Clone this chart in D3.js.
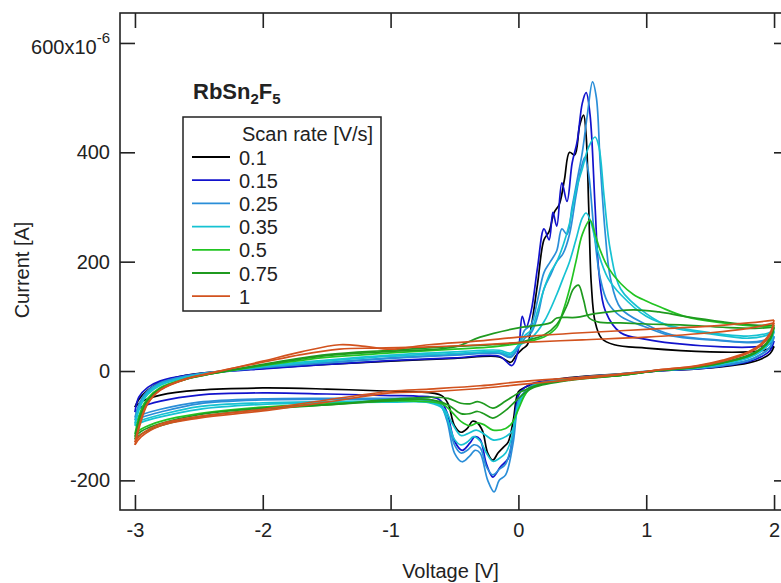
<!DOCTYPE html>
<html>
<head>
<meta charset="utf-8">
<script src="https://cdn.jsdelivr.net/npm/d3@7"></script>
<style>
  body { margin: 0; background: #fff; }
  text { font-family: "Liberation Sans", Arial, sans-serif; fill: #222; }
</style>
</head>
<body>
<script>
// Scan rates (legend labels) and colours
const rates = ["0.1", "0.15", "0.25", "0.35", "0.5", "0.75", "1"];
const colors = ["#000000", "#1212cc", "#2a8ed8", "#16c2d2", "#22c422", "#1f9a1f", "#d2521e"];

// Current in uA, [voltage, current]; forward scan -3 -> 2, reverse 2 -> -3
const fwd01 = [[-3,-66],[-2.97,-52],[-2.9,-35],[-2.8,-20],[-2.6,-8],[-2.4,-2],[-2,5],[-1.5,12],[-1,18],[-0.5,23],[-0.15,26],[-0.06,16],[-0.02,28],[0.03,40],[0.07,48],[0.1,80],[0.15,160],[0.2,240],[0.24,255],[0.28,290],[0.32,305],[0.36,350],[0.4,400],[0.44,395],[0.48,450],[0.51,468],[0.53,430],[0.55,300],[0.57,160],[0.6,90],[0.65,60],[0.75,48],[1.0,42],[1.5,35],[1.8,35],[1.92,38],[2,45]];
const rev01 = [[2,45],[1.97,32],[1.9,22],[1.8,15],[1.6,8],[1.4,4],[1.1,0],[0.8,-5],[0.4,-12],[0.15,-22],[0.05,-30],[0.0,-38],[-0.04,-90],[-0.08,-130],[-0.12,-140],[-0.16,-150],[-0.2,-163],[-0.24,-150],[-0.28,-110],[-0.32,-95],[-0.36,-92],[-0.4,-105],[-0.45,-112],[-0.5,-100],[-0.55,-60],[-0.6,-45],[-0.8,-38],[-1,-37],[-1.5,-33],[-2,-31],[-2.5,-35],[-2.8,-44],[-2.95,-56],[-3,-66]];

const fwd015 = [[-3,-75],[-2.97,-48],[-2.9,-30],[-2.8,-18],[-2.6,-8],[-2.4,-3],[-2,4],[-1.5,12],[-1,19],[-0.5,24],[-0.15,27],[-0.05,10],[0,40],[0.03,100],[0.06,80],[0.1,110],[0.15,190],[0.2,260],[0.24,240],[0.27,290],[0.3,265],[0.34,344],[0.38,310],[0.42,380],[0.46,420],[0.5,490],[0.53,509],[0.56,470],[0.6,300],[0.63,180],[0.68,110],[0.8,70],[1.0,58],[1.2,51],[1.6,44],[1.85,44],[1.95,48],[2,55]];
const rev015 = [[2,55],[1.97,38],[1.9,26],[1.8,17],[1.6,9],[1.4,4],[1.1,0],[0.8,-6],[0.4,-13],[0.12,-22],[0.05,-30],[0,-45],[-0.04,-110],[-0.08,-160],[-0.14,-175],[-0.2,-194],[-0.25,-170],[-0.3,-125],[-0.34,-120],[-0.38,-132],[-0.44,-145],[-0.5,-128],[-0.56,-75],[-0.62,-52],[-0.8,-46],[-1,-45],[-1.5,-42],[-2,-40],[-2.5,-44],[-2.8,-55],[-2.95,-66],[-3,-75]];

const fwd025 = [[-3,-90],[-2.96,-60],[-2.9,-38],[-2.8,-22],[-2.6,-10],[-2.4,-3],[-2,6],[-1.5,15],[-1,23],[-0.5,29],[-0.15,32],[-0.06,25],[0.0,45],[0.05,75],[0.1,85],[0.15,130],[0.2,180],[0.25,200],[0.3,220],[0.34,260],[0.38,250],[0.42,300],[0.46,350],[0.5,400],[0.54,470],[0.58,529],[0.61,500],[0.64,380],[0.68,250],[0.72,170],[0.8,115],[1.0,85],[1.2,66],[1.5,58],[1.8,53],[1.95,58],[2,64]];
const rev025 = [[2,64],[1.97,45],[1.9,31],[1.8,20],[1.6,11],[1.4,5],[1.1,1],[0.8,-6],[0.4,-14],[0.12,-25],[0.06,-35],[0.0,-60],[-0.04,-130],[-0.1,-190],[-0.15,-200],[-0.19,-221],[-0.24,-200],[-0.3,-150],[-0.34,-145],[-0.38,-155],[-0.44,-166],[-0.5,-150],[-0.56,-90],[-0.62,-60],[-0.8,-52],[-1,-52],[-1.5,-52],[-2,-53],[-2.5,-60],[-2.8,-75],[-2.95,-85],[-3,-90]];
const fwd025b = [[-3,-85],[-2.96,-56],[-2.9,-36],[-2.8,-21],[-2.6,-9],[-2.4,-2],[-2,7],[-1.5,16],[-1,24],[-0.5,30],[-0.15,33],[-0.06,27],[0,42],[0.05,60],[0.1,70],[0.15,100],[0.2,150],[0.25,175],[0.3,200],[0.35,215],[0.4,250],[0.45,320],[0.49,370],[0.52,391],[0.55,360],[0.59,260],[0.64,170],[0.7,125],[0.8,100],[1.0,80],[1.2,64],[1.5,57],[1.8,52],[1.95,56],[2,62]];
const rev025b = [[2,62],[1.97,44],[1.9,30],[1.8,19],[1.6,10],[1.4,5],[1.1,1],[0.8,-5],[0.4,-14],[0.12,-25],[0.06,-35],[0,-55],[-0.05,-130],[-0.1,-170],[-0.15,-180],[-0.2,-190],[-0.25,-175],[-0.3,-140],[-0.35,-135],[-0.4,-145],[-0.45,-150],[-0.5,-135],[-0.56,-85],[-0.62,-58],[-0.8,-50],[-1,-50],[-1.5,-50],[-2,-51],[-2.5,-57],[-2.8,-70],[-2.95,-80],[-3,-85]];

const fwd035 = [[-3,-96],[-2.96,-62],[-2.9,-40],[-2.8,-24],[-2.6,-11],[-2.4,-3],[-2,8],[-1.5,18],[-1,27],[-0.5,32],[-0.15,35],[-0.06,30],[0,48],[0.05,65],[0.1,75],[0.15,110],[0.2,150],[0.25,180],[0.3,200],[0.35,230],[0.4,270],[0.45,330],[0.5,370],[0.55,410],[0.6,428],[0.63,410],[0.67,320],[0.72,220],[0.8,150],[1.0,105],[1.2,80],[1.5,68],[1.8,60],[1.95,66],[2,72]];
const rev035 = [[2,72],[1.97,52],[1.9,36],[1.8,24],[1.6,13],[1.4,6],[1.1,1],[0.8,-7],[0.4,-15],[0.12,-27],[0.06,-38],[0.0,-60],[-0.05,-120],[-0.1,-150],[-0.15,-160],[-0.2,-165],[-0.25,-150],[-0.3,-128],[-0.35,-120],[-0.4,-130],[-0.45,-135],[-0.5,-125],[-0.56,-85],[-0.62,-62],[-0.8,-55],[-1,-55],[-1.5,-56],[-2,-58],[-2.5,-65],[-2.8,-80],[-2.95,-90],[-3,-96]];
const fwd035b = [[-3,-100],[-2.96,-66],[-2.9,-43],[-2.8,-26],[-2.6,-12],[-2.4,-4],[-2,9],[-1.5,20],[-1,29],[-0.5,35],[-0.15,38],[-0.06,33],[0,46],[0.1,60],[0.2,90],[0.3,140],[0.35,170],[0.4,200],[0.45,240],[0.5,280],[0.53,289],[0.57,270],[0.62,220],[0.7,170],[0.8,140],[1.0,100],[1.2,82],[1.5,70],[1.8,64],[1.95,69],[2,74]];
const rev035b = [[2,74],[1.97,53],[1.9,37],[1.8,25],[1.6,13],[1.4,6],[1.1,1],[0.8,-6],[0.4,-15],[0.12,-27],[0.06,-40],[0,-65],[-0.05,-110],[-0.1,-120],[-0.15,-125],[-0.2,-126],[-0.27,-115],[-0.33,-108],[-0.4,-115],[-0.45,-118],[-0.52,-95],[-0.58,-70],[-0.7,-58],[-1,-57],[-1.5,-58],[-2,-61],[-2.5,-70],[-2.8,-84],[-2.95,-94],[-3,-100]];

const fwd05 = [[-3,-115],[-2.95,-70],[-2.9,-50],[-2.8,-30],[-2.6,-14],[-2.4,-5],[-2,10],[-1.5,25],[-1,33],[-0.5,40],[-0.2,44],[0,50],[0.1,55],[0.2,62],[0.3,80],[0.35,110],[0.4,150],[0.45,200],[0.5,250],[0.56,276],[0.6,250],[0.64,221],[0.7,190],[0.8,160],[0.9,140],[1.0,128],[1.11,117],[1.3,100],[1.6,88],[1.85,82],[2,80]];
const rev05 = [[2,80],[1.97,58],[1.9,40],[1.8,27],[1.6,15],[1.4,7],[1.1,1],[0.8,-8],[0.4,-16],[0.12,-28],[0.06,-40],[0.0,-70],[-0.05,-95],[-0.1,-105],[-0.2,-108],[-0.27,-98],[-0.32,-95],[-0.38,-100],[-0.45,-92],[-0.52,-75],[-0.6,-60],[-0.8,-55],[-1,-55],[-1.5,-60],[-2,-66],[-2.5,-78],[-2.8,-92],[-2.95,-106],[-3,-115]];

const fwd075 = [[-3,-125],[-2.95,-80],[-2.9,-55],[-2.8,-33],[-2.6,-15],[-2.4,-5],[-2,12],[-1.5,30],[-1,38],[-0.5,45],[-0.2,48],[0,52],[0.1,58],[0.2,66],[0.3,85],[0.38,120],[0.43,150],[0.47,157],[0.51,130],[0.55,98],[0.62,90],[0.8,88],[1.0,86],[1.3,84],[1.6,80],[1.85,78],[2,80]];
const rev075 = [[2,80],[1.97,58],[1.9,40],[1.8,27],[1.6,15],[1.4,7],[1.1,1],[0.8,-8],[0.4,-16],[0.12,-28],[0.05,-35],[0.0,-40],[-0.1,-55],[-0.2,-68],[-0.27,-60],[-0.32,-56],[-0.38,-60],[-0.45,-59],[-0.55,-50],[-0.7,-48],[-1,-52],[-1.5,-62],[-2,-70],[-2.5,-84],[-2.8,-100],[-2.95,-115],[-3,-125]];
const fwd075b = [[-3,-120],[-2.95,-76],[-2.9,-53],[-2.8,-32],[-2.6,-15],[-2.4,-5],[-2,11],[-1.5,28],[-1,36],[-0.5,44],[-0.3,62],[0,79],[0.25,88],[0.3,97],[0.45,98],[0.6,105],[0.9,112],[1.1,108],[1.3,100],[1.6,90],[1.85,84],[2,84]];
const rev075b = [[2,84],[1.97,61],[1.9,42],[1.8,29],[1.6,16],[1.4,7],[1.1,1],[0.8,-8],[0.4,-17],[0.12,-30],[0.05,-40],[0.0,-50],[-0.1,-72],[-0.2,-86],[-0.27,-78],[-0.32,-74],[-0.38,-78],[-0.45,-78],[-0.55,-62],[-0.7,-52],[-1,-54],[-1.5,-62],[-2,-68],[-2.5,-80],[-2.8,-96],[-2.95,-110],[-3,-120]];

const fwd1 = [[-3,-135],[-2.95,-90],[-2.9,-60],[-2.8,-35],[-2.6,-15],[-2.4,-4],[-2,18],[-1.7,35],[-1.4,48],[-1.2,45],[-1,40],[-0.7,48],[-0.3,55],[0,62],[0.5,70],[1.0,76],[1.5,82],[1.8,88],[2,93]];
const rev1 = [[2,93],[1.97,70],[1.9,50],[1.8,35],[1.6,20],[1.4,10],[1.1,2],[1.0,-1],[0.5,-14],[0,-25],[-0.3,-32],[-0.7,-38],[-1,-40],[-1.5,-57],[-2,-73],[-2.5,-86],[-2.8,-100],[-2.95,-120],[-3,-135]];
const fwd1b = [[-3,-130],[-2.95,-86],[-2.9,-58],[-2.8,-34],[-2.6,-14],[-2.4,-3],[-2,16],[-1.7,30],[-1.4,40],[-1.1,42],[-0.7,44],[-0.3,48],[0,52],[0.5,57],[1.0,62],[1.5,70],[1.8,78],[2,88]];
const rev1b = [[2,88],[1.97,66],[1.9,47],[1.8,33],[1.6,18],[1.4,9],[1.1,2],[1.0,-1],[0.5,-11],[0,-20],[-0.3,-27],[-0.7,-33],[-1,-37],[-1.5,-53],[-2,-70],[-2.5,-83],[-2.8,-97],[-2.95,-116],[-3,-130]];

// each scan rate: list of [forward, reverse] cycles
const cycles = [
  [[fwd01, rev01]],
  [[fwd015, rev015]],
  [[fwd025, rev025], [fwd025b, rev025b]],
  [[fwd035, rev035], [fwd035b, rev035b]],
  [[fwd05, rev05]],
  [[fwd075, rev075], [fwd075b, rev075b]],
  [[fwd1, rev1], [fwd1b, rev1b]]
];

const xTicks = [-3, -2, -1, 0, 1, 2];
const yTicks = [-200, 0, 200, 400, 600];

const width = 781, height = 583;
const mLeft = 120, mRight = 789, mTop = 13, mBottom = 510;

const svg = d3.select("body").append("svg")
    .attr("width", width)
    .attr("height", height);

const x = d3.scaleLinear().domain([-3.117, 2.117]).range([mLeft, mRight]);
const y = d3.scaleLinear().domain([-254.2, 654.8]).range([mBottom, mTop]);

svg.append("clipPath").attr("id", "plot")
  .append("rect")
    .attr("x", mLeft).attr("y", mTop)
    .attr("width", mRight - mLeft).attr("height", mBottom - mTop);

// curves
const line = d3.line()
    .x(d => x(d[0]))
    .y(d => y(d[1]))
    .curve(d3.curveCatmullRom.alpha(0.5));

const curves = svg.append("g").attr("clip-path", "url(#plot)");
cycles.forEach((cyc, i) => {
  cyc.forEach(pair => {
    pair.forEach(branch => {
      curves.append("path")
          .attr("d", line(branch))
          .attr("fill", "none")
          .attr("stroke", colors[i])
          .attr("stroke-width", 1.7)
          .attr("stroke-linejoin", "round");
    });
  });
});

// axes with inward ticks on all four sides
const fmtY = d => d === 600 ? "600x10" : String(d);
svg.append("g").attr("transform", `translate(${mLeft},0)`)
    .call(d3.axisLeft(y).tickValues(yTicks).tickSizeInner(-15).tickSizeOuter(0).tickPadding(10).tickFormat(fmtY));
svg.append("g").attr("class", "noLabels").attr("transform", `translate(${mRight},0)`)
    .call(d3.axisRight(y).tickValues(yTicks).tickSizeInner(-15).tickSizeOuter(0));
svg.append("g").attr("transform", `translate(0,${mBottom})`)
    .call(d3.axisBottom(x).tickValues(xTicks).tickSizeInner(-15).tickSizeOuter(0).tickPadding(13).tickFormat(d => String(d)));
svg.append("g").attr("class", "noLabels").attr("transform", `translate(0,${mTop})`)
    .call(d3.axisTop(x).tickValues(xTicks).tickSizeInner(-15).tickSizeOuter(0));

svg.selectAll(".noLabels .tick text").remove();
svg.selectAll(".domain").remove();
svg.selectAll(".tick line").attr("stroke", "#222").attr("stroke-width", 1.6);
svg.selectAll(".tick text")
    .style("font-family", "'Liberation Sans', Arial, sans-serif")
    .style("font-size", "20px")
    .attr("fill", "#222");

// exponent on top label
svg.selectAll(".tick text").filter(d => d === 600)
    .attr("dy", "0.55em")
    .append("tspan")
    .attr("dy", "-0.75em")
    .style("font-size", "15px")
    .text("-6");

svg.append("rect")
    .attr("x", mLeft).attr("y", mTop)
    .attr("width", mRight - mLeft).attr("height", mBottom - mTop)
    .attr("fill", "none")
    .attr("stroke", "#222")
    .attr("stroke-width", 1.6);

// axis titles
svg.append("text")
    .attr("x", (mLeft + mRight - 8) / 2)
    .attr("y", 578)
    .attr("text-anchor", "middle")
    .style("font-size", "20px")
    .text("Voltage [V]");

svg.append("text")
    .attr("transform", "translate(29,270) rotate(-90)")
    .attr("text-anchor", "middle")
    .style("font-size", "20px")
    .text("Current [A]");

// compound name
const title = svg.append("text")
    .attr("x", 193).attr("y", 99)
    .style("font-size", "22px")
    .style("font-weight", "bold");
title.append("tspan").text("RbSn");
title.append("tspan").attr("dy", 5).style("font-size", "15px").text("2");
title.append("tspan").attr("dy", -5).text("F");
title.append("tspan").attr("dy", 5).style("font-size", "15px").text("5");

// legend
const legend = svg.append("g");
legend.append("rect")
    .attr("x", 183).attr("y", 117)
    .attr("width", 198).attr("height", 194)
    .attr("fill", "#fff")
    .attr("stroke", "#222")
    .attr("stroke-width", 1.5);
legend.append("text")
    .attr("x", 242).attr("y", 140.5)
    .style("font-size", "20px")
    .text("Scan rate [V/s]");
rates.forEach((r, i) => {
  const ly = 157 + i * 23.2;
  legend.append("line")
      .attr("x1", 192).attr("x2", 230)
      .attr("y1", ly).attr("y2", ly)
      .attr("stroke", colors[i])
      .attr("stroke-width", 1.8);
  legend.append("text")
      .attr("x", 239).attr("y", ly + 7.5)
      .style("font-size", "20px")
      .text(r);
});
</script>
</body>
</html>
